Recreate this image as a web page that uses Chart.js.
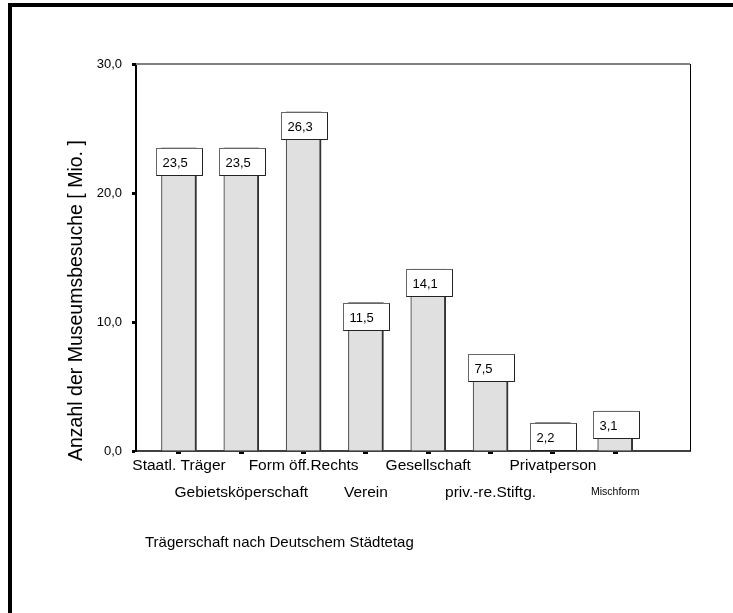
<!DOCTYPE html>
<html>
<head>
<meta charset="utf-8">
<script src="https://cdn.jsdelivr.net/npm/chart.js@4/dist/chart.umd.min.js"></script>
<style>
  html, body { margin: 0; padding: 0; background: #fff; }
  #wrap { width: 733px; height: 613px; position: relative; }
</style>
</head>
<body>
<div id="wrap"><canvas id="c" width="733" height="613"></canvas></div>
<script>
// Museum visits (millions) by type of sponsorship
const categories = ['Staatl. Träger', 'Gebietsköperschaft', 'Form öff.Rechts', 'Verein',
                    'Gesellschaft', 'priv.-re.Stiftg.', 'Privatperson', 'Mischform'];
const visits = [23.5, 23.5, 26.3, 11.5, 14.1, 7.5, 2.2, 3.1];
const yTickValues = [0, 10, 20, 30];
const yTitle = 'Anzahl der Museumsbesuche [ Mio. ]';
const xTitle = 'Trägerschaft nach Deutschem Städtetag';

const FONT = "'Liberation Sans', Arial, sans-serif";
const fmt = v => v.toFixed(1).replace('.', ',');

// Outer page frame (top and left edges)
const framePlugin = {
  id: 'frame',
  beforeDraw(chart) {
    const ctx = chart.ctx;
    ctx.save();
    ctx.fillStyle = '#fff';
    ctx.fillRect(0, 0, chart.width, chart.height);
    ctx.fillStyle = '#000';
    ctx.fillRect(8, 3, chart.width - 8, 4);
    ctx.fillRect(8, 3, 4, chart.height - 3);
    ctx.restore();
  }
};

// Top and right border of the plot box
const boxPlugin = {
  id: 'plotBox',
  beforeDatasetsDraw(chart) {
    const { ctx, chartArea: a } = chart;
    ctx.save();
    ctx.strokeStyle = '#808080';
    ctx.lineWidth = 2;
    ctx.beginPath();
    ctx.moveTo(a.left, a.top);
    ctx.lineTo(a.right, a.top);
    ctx.stroke();
    ctx.strokeStyle = '#000';
    ctx.lineWidth = 1;
    ctx.beginPath();
    ctx.moveTo(a.right + 0.5, a.top);
    ctx.lineTo(a.right + 0.5, a.bottom);
    ctx.stroke();
    ctx.restore();
  }
};

// Value boxes sitting on top of each bar
const valueBoxPlugin = {
  id: 'valueBoxes',
  afterDatasetsDraw(chart) {
    const ctx = chart.ctx;
    const meta = chart.getDatasetMeta(0);
    ctx.save();
    meta.data.forEach((el, i) => {
      const w = 46, h = 27;
      const left = Math.round(el.x - 22.5) + 0.5;
      const top = Math.round(el.y) + 0.5;
      ctx.fillStyle = '#fff';
      ctx.fillRect(left, top, w, h);
      ctx.strokeStyle = '#666';
      ctx.lineWidth = 1;
      ctx.strokeRect(left, top, w, h);
      ctx.strokeStyle = '#222';
      ctx.beginPath();
      ctx.moveTo(left + w, top);
      ctx.lineTo(left + w, top + h);
      ctx.lineTo(left, top + h);
      ctx.stroke();
      ctx.fillStyle = '#000';
      ctx.font = '13px ' + FONT;
      ctx.textAlign = 'left';
      ctx.textBaseline = 'middle';
      ctx.fillText(fmt(visits[i]), left + 6, top + h / 2 + 1);
    });
    ctx.restore();
  }
};

// Axis titles
const titlesPlugin = {
  id: 'axisTitles',
  afterDraw(chart) {
    const ctx = chart.ctx;
    ctx.save();
    ctx.fillStyle = '#000';
    ctx.font = '15px ' + FONT;
    ctx.textAlign = 'left';
    ctx.textBaseline = 'middle';
    ctx.fillText(xTitle, 145, 543);
    ctx.translate(77, 461);
    ctx.rotate(-Math.PI / 2);
    ctx.font = '19.5px ' + FONT;
    ctx.fillText(yTitle, 0, 0);
    ctx.restore();
  }
};

new Chart(document.getElementById('c'), {
  type: 'bar',
  data: {
    datasets: [{
      data: visits.map((v, i) => ({ x: i, y: v })),
      backgroundColor: '#e0e0e0',
      borderColor: '#333',
      borderWidth: { top: 2, left: 1, right: 2, bottom: 0 },
      borderSkipped: false,
      barThickness: 35
    }]
  },
  options: {
    responsive: false,
    animation: false,
    devicePixelRatio: 1,
    layout: { padding: { left: 20, top: 64, right: 43, bottom: 10 } },
    plugins: { legend: { display: false }, tooltip: { enabled: false } },
    scales: {
      x: {
        type: 'linear',
        offset: false,
        min: -0.69,
        max: 8.2,
        afterBuildTicks: s => { s.ticks = categories.map((_, i) => ({ value: i })); },
        afterFit: s => { s.height = 613 - 451 - 10; },
        grid: { offset: false, drawOnChartArea: false, drawTicks: true, tickLength: 3, tickWidth: 5, tickColor: '#000' },
        border: { color: '#404040', width: 2 },
        ticks: {
          autoSkip: false,
          maxRotation: 0,
          minRotation: 0,
          padding: -2,
          color: '#000',
          font: ctx => (ctx.index === 7
            ? { family: FONT, size: 10.5, lineHeight: 27 / 10.5 }
            : { family: FONT, size: 15.5, lineHeight: 27 / 15.5 }),
          callback: (v, i) => (i % 2 ? ['', categories[i]] : categories[i])
        }
      },
      y: {
        min: 0,
        max: 30,
        afterBuildTicks: s => { s.ticks = yTickValues.map(v => ({ value: v })); },
        afterFit: s => { s.width = 136 - 20; },
        grid: { drawOnChartArea: false, drawTicks: true, tickLength: 4, tickWidth: 3, tickColor: '#000' },
        border: { color: '#000', width: 2 },
        ticks: {
          padding: 10,
          color: '#000',
          font: { family: FONT, size: 13 },
          callback: v => fmt(v)
        }
      }
    }
  },
  plugins: [framePlugin, boxPlugin, valueBoxPlugin, titlesPlugin]
});
</script>
</body>
</html>
